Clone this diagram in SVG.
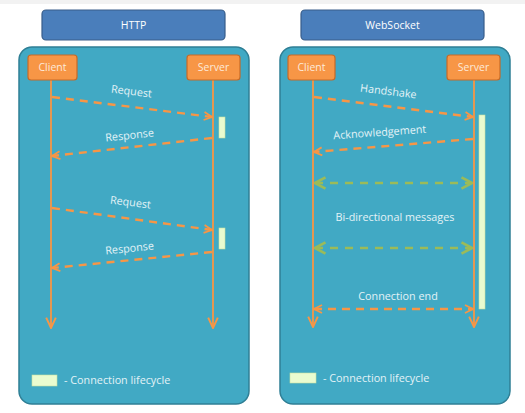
<svg xmlns="http://www.w3.org/2000/svg" width="525" height="413" viewBox="0 0 525 413">
<style>
.hdr{fill:#4a7ebb;stroke:#385d8a;stroke-width:1.2}
.hdrt{font-family:"Open Sans","DejaVu Sans",sans-serif;font-size:10.5px;fill:#ffffff;text-anchor:middle}
.panel{fill:#41a9c4;stroke:#2f7f95;stroke-width:1.5}
.actor{fill:#f79646;stroke:#c76a26;stroke-width:1.2}
.actt{font-family:"Open Sans","DejaVu Sans",sans-serif;font-size:10.5px;fill:#fde9d9;text-anchor:middle}
.life{stroke:#f79646;stroke-width:1.8;fill:none}
.msg{stroke:#f79646;stroke-width:2.4;stroke-dasharray:8,6;fill:none}
.gmsg{stroke:#9bbb59;stroke-width:2.4;stroke-dasharray:8,7;fill:none}
.lbl{font-family:"Open Sans","DejaVu Sans",sans-serif;font-size:10.8px;fill:#e4f3f7;text-anchor:middle}
.cyc{fill:#eafcd0;stroke:#c8e0a0;stroke-width:0.6}
</style>
<defs>
<marker id="oa" viewBox="0 0 10 10" refX="9" refY="5" markerWidth="10" markerHeight="10" orient="auto-start-reverse" markerUnits="userSpaceOnUse">
<path d="M1,1 L9,5 L1,9" fill="none" stroke="#f79646" stroke-width="1.8"/>
</marker>
<marker id="ob" viewBox="0 0 10 10" refX="9" refY="5" markerWidth="13" markerHeight="13" orient="auto-start-reverse" markerUnits="userSpaceOnUse">
<path d="M1,1.3 L9,5 L1,8.7" fill="none" stroke="#f79646" stroke-width="1.5"/>
</marker>
<marker id="ga" viewBox="0 0 10 10" refX="9" refY="5" markerWidth="14" markerHeight="14" orient="auto-start-reverse" markerUnits="userSpaceOnUse">
<path d="M1.5,1 L9,5 L1.5,9" fill="none" stroke="#9bbb59" stroke-width="1.9"/>
</marker>
</defs>
<rect x="0" y="0" width="525" height="413" fill="#ffffff"/>
<rect x="0" y="0" width="525" height="4" fill="#f2f2f2"/>

<g id="http-header"><rect class="hdr" x="42" y="10" width="183" height="30" rx="4"/><text class="hdrt" x="133.5" y="28.5">HTTP</text></g>
<g id="ws-header"><rect class="hdr" x="301" y="10" width="183" height="30" rx="4"/><text class="hdrt" x="392.5" y="28.5">WebSocket</text></g>

<g id="http-panel"><rect class="panel" x="19" y="47" width="230" height="357" rx="13"/></g>
<g id="ws-panel"><rect class="panel" x="280" y="47" width="230" height="357" rx="13"/></g>

<g id="connectors">
<line class="life" x1="51" y1="80" x2="51" y2="328" marker-end="url(#ob)"/>
<line class="life" x1="213" y1="80" x2="213" y2="328" marker-end="url(#ob)"/>
<line class="life" x1="313" y1="80" x2="313" y2="327" marker-end="url(#ob)"/>
<line class="life" x1="474" y1="80" x2="474" y2="327" marker-end="url(#ob)"/>

<line class="msg" x1="52" y1="97" x2="212" y2="117" marker-end="url(#oa)"/>
<line class="msg" x1="212" y1="138" x2="52" y2="156" marker-end="url(#oa)"/>
<line class="msg" x1="52" y1="208" x2="212" y2="230" marker-end="url(#oa)"/>
<line class="msg" x1="212" y1="252" x2="52" y2="268" marker-end="url(#oa)"/>

<line class="msg" x1="314" y1="97" x2="473" y2="117" marker-end="url(#oa)"/>
<line class="msg" x1="473" y1="139" x2="314" y2="152" marker-end="url(#oa)"/>
<line class="gmsg" x1="315" y1="183" x2="472" y2="183" marker-start="url(#ga)" marker-end="url(#ga)"/>
<line class="gmsg" x1="315" y1="248" x2="472" y2="248" marker-start="url(#ga)" marker-end="url(#ga)"/>
<line class="msg" x1="314" y1="309" x2="473" y2="309" marker-start="url(#oa)" marker-end="url(#oa)"/>
</g>

<g id="http-client"><rect class="actor" x="28" y="55" width="49" height="25" rx="3"/><text class="actt" x="52.5" y="71">Client</text></g>
<g id="http-server"><rect class="actor" x="187" y="55" width="53" height="25" rx="3"/><text class="actt" x="213.5" y="71">Server</text></g>
<g id="ws-client"><rect class="actor" x="288" y="55" width="47" height="25" rx="3"/><text class="actt" x="311.5" y="71">Client</text></g>
<g id="ws-server"><rect class="actor" x="447" y="55" width="53" height="25" rx="3"/><text class="actt" x="473.5" y="71">Server</text></g>

<g id="http-cycle1"><rect class="cyc" x="219" y="117" width="6" height="21"/></g>
<g id="http-cycle2"><rect class="cyc" x="219" y="228" width="6" height="21"/></g>
<g id="ws-cycle"><rect class="cyc" x="479" y="115" width="6" height="194"/></g>

<g id="labels">
<text class="lbl" x="131" y="95" transform="rotate(7 131 95)">Request</text>
<text class="lbl" x="130" y="139" transform="rotate(-6 130 139)">Response</text>
<text class="lbl" x="130" y="206" transform="rotate(7 130 206)">Request</text>
<text class="lbl" x="130" y="252" transform="rotate(-6 130 252)">Response</text>
<text class="lbl" x="388" y="95" transform="rotate(7 388 95)">Handshake</text>
<text class="lbl" x="380" y="136" transform="rotate(-4 380 136)">Acknowledgement</text>
<text class="lbl" x="395" y="221">Bi-directional messages</text>
<text class="lbl" x="398" y="300">Connection end</text>
</g>

<g id="http-legend"><rect class="cyc" x="32" y="375" width="25" height="11"/><text class="lbl" x="64" y="384" style="text-anchor:start">- Connection lifecycle</text></g>
<g id="ws-legend"><rect class="cyc" x="290" y="373" width="26" height="10"/><text class="lbl" x="323" y="382" style="text-anchor:start">- Connection lifecycle</text></g>
</svg>
